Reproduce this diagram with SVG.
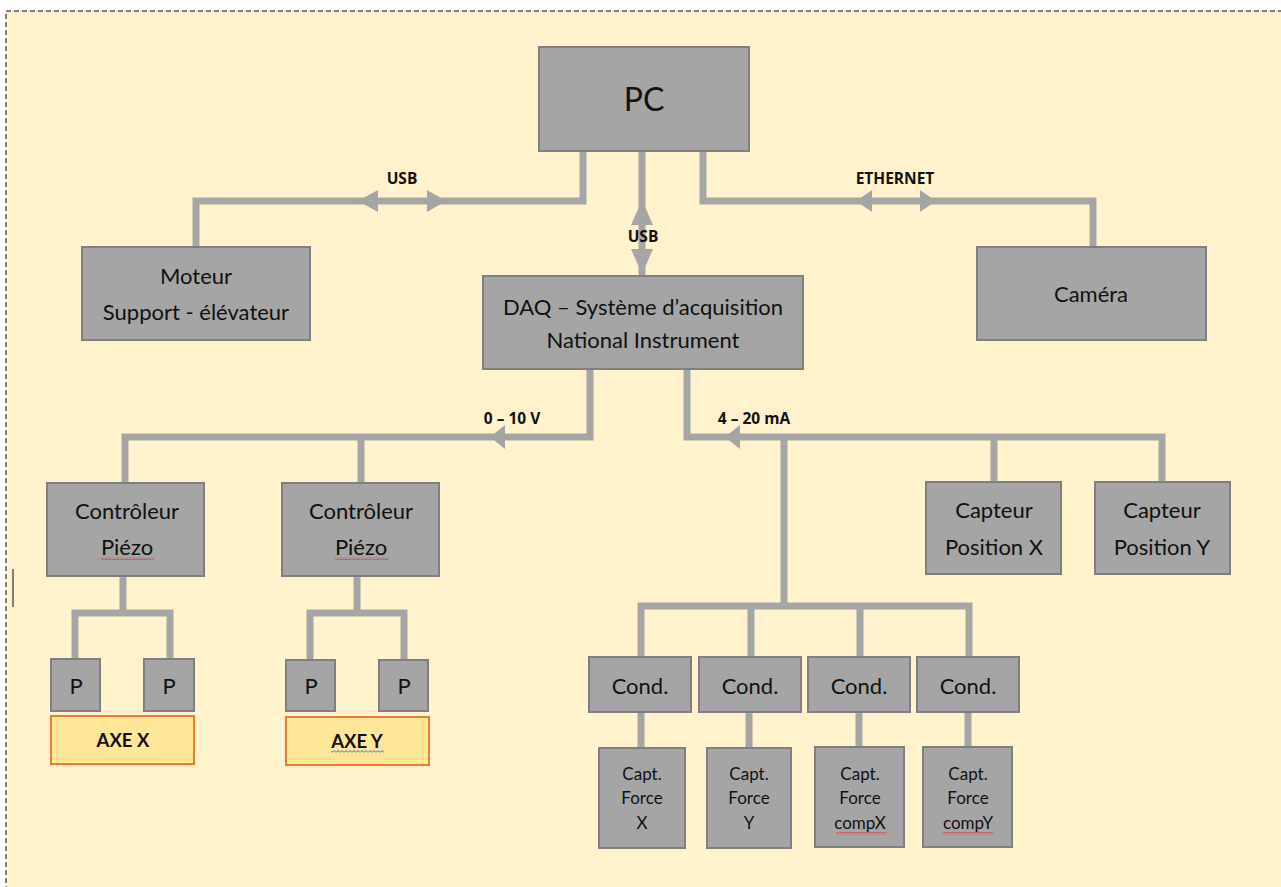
<svg xmlns="http://www.w3.org/2000/svg" width="1281" height="887" viewBox="0 0 1281 887">
<defs>
<style>
.bg{fill:#FFF2CC;stroke:#7F7F7F;stroke-width:2;stroke-dasharray:5,3}
.box{fill:#A5A5A5;stroke:#7F7F7F;stroke-width:2}
.axe{fill:#FFE699;stroke:#ED7D31;stroke-width:2}
.c{fill:none;stroke:#A5A5A5;stroke-width:7;stroke-linejoin:miter}
.ah{fill:#A5A5A5}
.t{font-family:Lato,"Liberation Sans",sans-serif;fill:#111;text-anchor:middle}
.m{font-size:22px}
.s{font-size:17px}
.l{font-family:"Open Sans","Liberation Sans",sans-serif;font-weight:bold;fill:#111;text-anchor:middle;font-size:15.5px}
</style>
<pattern id="wr" width="4" height="3" patternUnits="userSpaceOnUse"><path d="M0 2.5 L2 0.5 L4 2.5" fill="none" stroke="#E02020" stroke-width="0.9"/></pattern>
<pattern id="wb" width="4" height="3" patternUnits="userSpaceOnUse"><path d="M0 2.5 L2 0.5 L4 2.5" fill="none" stroke="#3050E0" stroke-width="0.9"/></pattern>
</defs>
<rect class="bg" x="6" y="11" width="1300" height="900"/>
<line x1="13" y1="569" x2="13" y2="607" stroke="#555" stroke-width="1.5"/>

<g id="connectors">
<polyline class="c" points="583,151 583,201 196,201 196,247"/>
<line class="c" x1="642" y1="151" x2="642" y2="276"/>
<polyline class="c" points="703,151 703,201 1093,201 1093,247"/>
<polyline class="c" points="590,369 590,437 125,437 125,483"/>
<line class="c" x1="361" y1="437" x2="361" y2="483"/>
<polyline class="c" points="687,369 687,437 1162,437 1162,482"/>
<line class="c" x1="994" y1="437" x2="994" y2="482"/>
<line class="c" x1="784" y1="437" x2="784" y2="606"/>
<polyline class="c" points="641,657 641,606 969,606 969,657"/>
<line class="c" x1="751" y1="606" x2="751" y2="657"/>
<line class="c" x1="860" y1="606" x2="860" y2="657"/>
<line class="c" x1="641" y1="712" x2="641" y2="748"/>
<line class="c" x1="749" y1="712" x2="749" y2="748"/>
<line class="c" x1="859" y1="712" x2="859" y2="747"/>
<line class="c" x1="968" y1="712" x2="968" y2="747"/>
<line class="c" x1="123" y1="576" x2="123" y2="613"/>
<polyline class="c" points="75,659 75,613 170,613 170,659"/>
<line class="c" x1="357" y1="576" x2="357" y2="613"/>
<polyline class="c" points="310,660 310,613 404,613 404,660"/>
<polygon class="ah" points="358,201 378,190 378,212"/>
<polygon class="ah" points="446,201 427,190 427,212"/>
<polygon class="ah" points="856,201 872,190 872,212"/>
<polygon class="ah" points="936,201 920,190 920,212"/>
<polygon class="ah" points="642,200 631,225 653,225"/>
<polygon class="ah" points="642,274 631,249 653,249"/>
<polygon class="ah" points="490,437 505,425 505,449"/>
<polygon class="ah" points="725,437 740,425 740,449"/>
<text class="l" x="402" y="184">USB</text>
<text class="l" x="643" y="242">USB</text>
<text class="l" x="895" y="184">ETHERNET</text>
<text class="l" x="512" y="424">0 – 10 V</text>
<text class="l" x="754" y="424">4 – 20 mA</text>
</g>

<g id="pc"><rect class="box" x="539" y="47" width="210" height="104"/><text class="t" x="644" y="111" font-size="32">PC</text></g>
<g id="moteur"><rect class="box" x="82" y="247" width="228" height="93"/><text class="t m" x="196" y="284">Moteur</text><text class="t m" x="196" y="320">Support - élévateur</text></g>
<g id="camera"><rect class="box" x="977" y="247" width="229" height="93"/><text class="t m" x="1091" y="302">Caméra</text></g>
<g id="daq"><rect class="box" x="483" y="276" width="320" height="93"/><text class="t m" x="643" y="315">DAQ – Système d’acquisition</text><text class="t m" x="643" y="348">National Instrument</text></g>

<g id="ctrl1"><rect class="box" x="47" y="483" width="157" height="93"/><text class="t m" x="127" y="519">Contrôleur</text><text class="t m" x="127" y="555">Piézo</text><rect x="101" y="557" width="53" height="3" fill="url(#wr)"/></g>
<g id="ctrl2"><rect class="box" x="282" y="483" width="157" height="93"/><text class="t m" x="361" y="519">Contrôleur</text><text class="t m" x="361" y="555">Piézo</text><rect x="335" y="557" width="54" height="3" fill="url(#wr)"/></g>

<g id="p1"><rect class="box" x="51" y="659" width="49" height="52"/><text class="t m" x="76" y="694">P</text></g>
<g id="p2"><rect class="box" x="144" y="659" width="50" height="52"/><text class="t m" x="169" y="694">P</text></g>
<g id="p3"><rect class="box" x="286" y="660" width="49" height="51"/><text class="t m" x="311" y="694">P</text></g>
<g id="p4"><rect class="box" x="379" y="660" width="49" height="51"/><text class="t m" x="404" y="694">P</text></g>
<g id="axeX"><rect class="axe" x="51" y="716" width="143" height="48"/><text class="t" x="123" y="747" font-size="18.5" font-weight="bold">AXE X</text></g>
<g id="axeY"><rect class="axe" x="286" y="717" width="143" height="48"/><text class="t" x="357" y="748" font-size="18.5" font-weight="bold">AXE Y</text><rect x="331" y="750" width="53" height="3" fill="url(#wb)"/></g>

<g id="capX"><rect class="box" x="926" y="482" width="135" height="92"/><text class="t m" x="994" y="518">Capteur</text><text class="t m" x="994" y="555">Position X</text></g>
<g id="capY"><rect class="box" x="1095" y="482" width="135" height="92"/><text class="t m" x="1162" y="518">Capteur</text><text class="t m" x="1162" y="555">Position Y</text></g>

<g id="cond1"><rect class="box" x="589" y="657" width="102" height="55"/><text class="t m" x="640" y="694">Cond.</text></g>
<g id="cond2"><rect class="box" x="699" y="657" width="102" height="55"/><text class="t m" x="750" y="694">Cond.</text></g>
<g id="cond3"><rect class="box" x="808" y="657" width="102" height="55"/><text class="t m" x="859" y="694">Cond.</text></g>
<g id="cond4"><rect class="box" x="917" y="657" width="102" height="55"/><text class="t m" x="968" y="694">Cond.</text></g>

<g id="fx"><rect class="box" x="599" y="748" width="86" height="100"/><text class="t s" x="642" y="780">Capt.</text><text class="t s" x="642" y="804">Force</text><text class="t s" x="642" y="829">X</text></g>
<g id="fy"><rect class="box" x="707" y="748" width="84" height="100"/><text class="t s" x="749" y="780">Capt.</text><text class="t s" x="749" y="804">Force</text><text class="t s" x="749" y="829">Y</text></g>
<g id="fcx"><rect class="box" x="815" y="747" width="89" height="100"/><text class="t s" x="860" y="780">Capt.</text><text class="t s" x="860" y="804">Force</text><text class="t s" x="860" y="829">compX</text><rect x="836" y="832" width="51" height="3" fill="url(#wr)"/></g>
<g id="fcy"><rect class="box" x="923" y="747" width="89" height="100"/><text class="t s" x="968" y="780">Capt.</text><text class="t s" x="968" y="804">Force</text><text class="t s" x="968" y="829">compY</text><rect x="943" y="832" width="50" height="3" fill="url(#wr)"/></g>
</svg>
